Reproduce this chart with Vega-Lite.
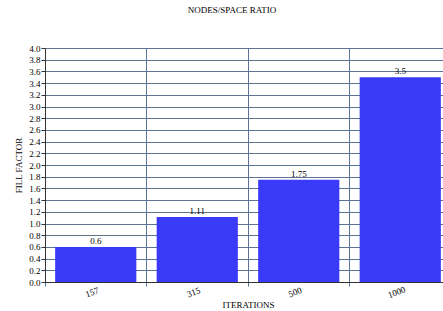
{
  "$schema": "https://vega.github.io/schema/vega-lite/v6.json",
  "width": 406,
  "height": 234,
  "autosize": {"type": "none"},
  "padding": {"left": 45, "top": 48, "right": 0, "bottom": 29},
  "background": "white",
  "title": {"text": "NODES/SPACE RATIO", "font": "Liberation Serif", "fontSize": 9, "fontWeight": "normal", "color": "#000", "offset": 29, "dx": -16},
  "config": {"view": {"stroke": null}, "font": "Liberation Serif"},
  "data": {"values": [
    {"iter": "157", "fill": 0.6, "label": "0.6"},
    {"iter": "315", "fill": 1.11, "label": "1.11"},
    {"iter": "500", "fill": 1.75, "label": "1.75"},
    {"iter": "1000", "fill": 3.5, "label": "3.5"}
  ]},
  "encoding": {
    "x": {"field": "iter", "type": "nominal", "sort": null,
      "scale": {"paddingInner": 0, "paddingOuter": 0},
      "axis": {"title": "ITERATIONS", "bandPosition": 0, "labelOffset": -5, "labelAngle": -20, "labelAlign": "center", "labelBaseline": "top", "labelFont": "Liberation Serif", "labelFontSize": 9, "labelColor": "#000", "labelPadding": 2,
        "titleFont": "Liberation Serif", "titleFontSize": 9, "titleFontWeight": "normal", "titleColor": "#000", "titleY": 22, "titleBaseline": "middle",
        "grid": true, "gridColor": "#5a7491", "gridWidth": 1, "gridOpacity": 1, "tickColor": "#5a7491", "tickSize": 4, "domainColor": "#333"}},
    "y": {"field": "fill", "type": "quantitative", "scale": {"domain": [0, 4], "nice": false},
      "axis": {"title": "FILL FACTOR", "values": [0,0.2,0.4,0.6,0.8,1.0,1.2,1.4,1.6,1.8,2.0,2.2,2.4,2.6,2.8,3.0,3.2,3.4,3.6,3.8,4.0], "format": ".1f",
        "labelFont": "Liberation Serif", "labelFontSize": 9, "labelColor": "#000", "labelPadding": 1, "tickSize": 4, "tickColor": "#333",
        "titleFont": "Liberation Serif", "titleFontSize": 9, "titleFontWeight": "normal", "titleColor": "#000", "titleX": -22,
        "grid": true, "gridColor": "#5a7491", "gridWidth": 1, "gridOpacity": 1, "domainColor": "#333"}}
  },
  "layer": [
    {"mark": {"type": "bar", "width": {"band": 0.8}, "color": "#3a3af9"}},
    {"mark": {"type": "text", "baseline": "bottom", "dy": -1, "font": "Liberation Serif", "fontSize": 9, "color": "#000"},
     "encoding": {"text": {"field": "label"}}}
  ]
}
